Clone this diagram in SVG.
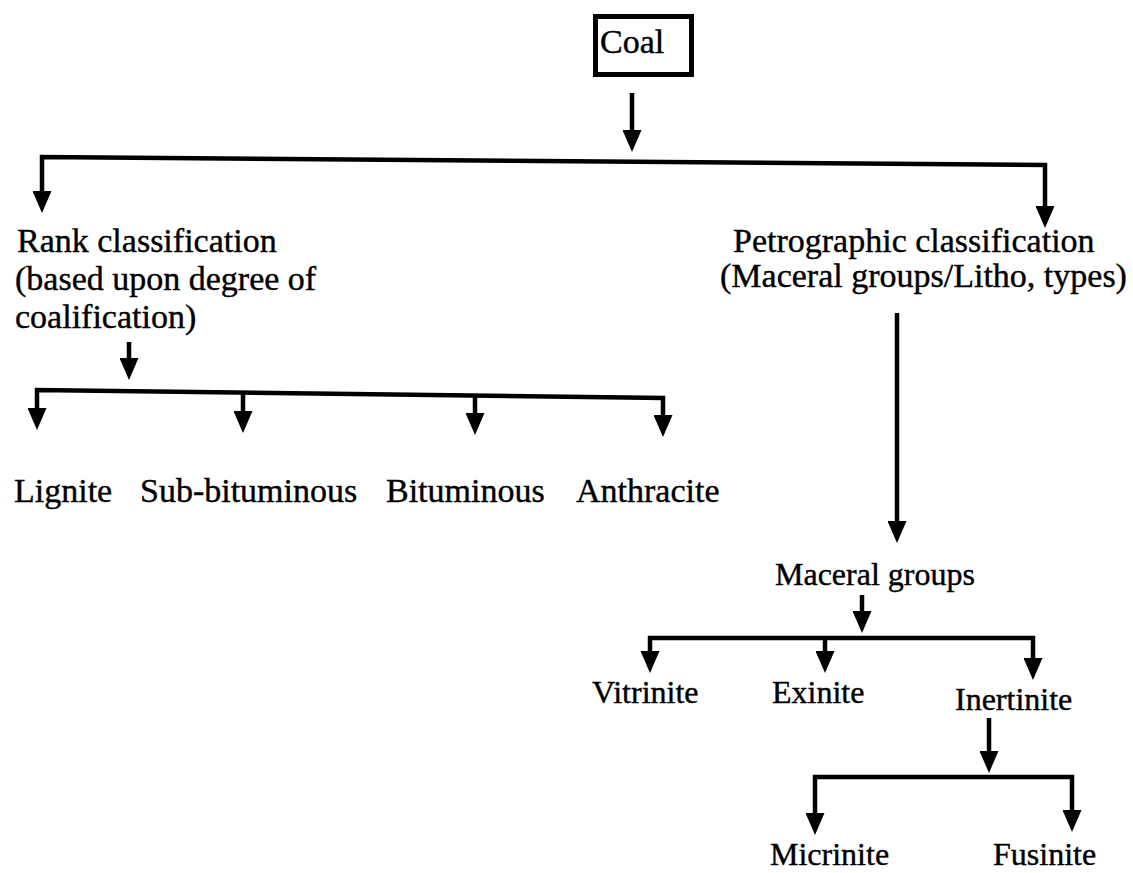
<svg xmlns="http://www.w3.org/2000/svg" width="1133" height="873" viewBox="0 0 1133 873">
<style>
text{font-family:"Liberation Serif","Times New Roman",serif;fill:#000;stroke:#000;stroke-width:0.4}
.t34{font-size:34px}
.t32{font-size:32px}
.c{fill:none;stroke:#000;stroke-width:4.5;stroke-linejoin:miter}
.box{fill:#fff;stroke:#000;stroke-width:5}
</style>
<defs>
<marker id="ah" markerUnits="userSpaceOnUse" markerWidth="22" markerHeight="19" viewBox="0 0 22 19" refX="8" refY="9.5" orient="auto-start-reverse">
<path d="M0,0 L22,9.5 L0,19 Z" fill="#000"/>
</marker>
</defs>
<rect width="1133" height="873" fill="#fff"/>
<g id="connectors">
<path class="c" d="M632 93 V138" marker-end="url(#ah)"/>
<path class="c" d="M42 199 V157 L1045 165 V214" marker-start="url(#ah)" marker-end="url(#ah)"/>
<path class="c" d="M129 342 V366" marker-end="url(#ah)"/>
<path class="c" d="M37 416 V390 L663 398 V423" marker-start="url(#ah)" marker-end="url(#ah)"/>
<path class="c" d="M243 392.6 V419" marker-end="url(#ah)"/>
<path class="c" d="M475 395.6 V421" marker-end="url(#ah)"/>
<path class="c" d="M897 313 V529" marker-end="url(#ah)"/>
<path class="c" d="M862 595 V619" marker-end="url(#ah)"/>
<path class="c" d="M650 659 V638 H1033 V666" marker-start="url(#ah)" marker-end="url(#ah)"/>
<path class="c" d="M825 638 V659" marker-end="url(#ah)"/>
<path class="c" d="M989 718 V759" marker-end="url(#ah)"/>
<path class="c" d="M815 821 V777 H1072 V818" marker-start="url(#ah)" marker-end="url(#ah)"/>
</g>
<g id="coal">
<rect class="box" x="595.5" y="16.5" width="96" height="58"/>
<text class="t34" x="600" y="53">Coal</text>
</g>
<g id="rank">
<text class="t34" x="17" y="252">Rank classification</text>
<text class="t34" x="15" y="290">(based upon degree of</text>
<text class="t34" x="15" y="328">coalification)</text>
</g>
<g id="petrographic">
<text class="t34" x="733" y="252">Petrographic classification</text>
<text class="t34" x="720" y="287">(Maceral groups/Litho, types)</text>
</g>
<g id="lignite"><text class="t34" x="14" y="502">Lignite</text></g>
<g id="subbituminous"><text class="t34" x="140" y="502">Sub-bituminous</text></g>
<g id="bituminous"><text class="t34" x="386" y="502">Bituminous</text></g>
<g id="anthracite"><text class="t34" x="576" y="502">Anthracite</text></g>
<g id="maceral-groups"><text class="t32" x="775" y="585">Maceral groups</text></g>
<g id="vitrinite"><text class="t32" x="592" y="703">Vitrinite</text></g>
<g id="exinite"><text class="t32" x="772" y="703">Exinite</text></g>
<g id="inertinite"><text class="t32" x="955" y="710">Inertinite</text></g>
<g id="micrinite"><text class="t32" x="770" y="865">Micrinite</text></g>
<g id="fusinite"><text class="t32" x="993" y="865">Fusinite</text></g>
</svg>
